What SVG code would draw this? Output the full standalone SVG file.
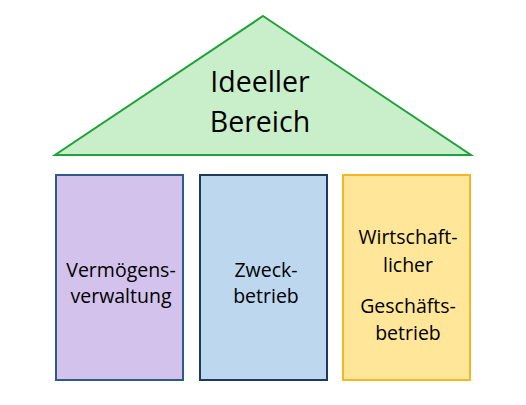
<svg xmlns="http://www.w3.org/2000/svg" width="526" height="405" viewBox="0 0 526 405">
<style>
text { font-family: "Open Sans", "Liberation Sans", sans-serif; fill: #000; text-anchor: middle; }
.big { font-size: 28.5px; }
.sm { font-size: 19.5px; }
</style>
<rect width="526" height="405" fill="#fff"/>
<g id="ideeller">
<polygon points="263,16 471,155 55,155" fill="#C8EFCA" stroke="#22A03A" stroke-width="2" stroke-linejoin="miter"/>
<text class="big" x="260" y="92">Ideeller</text>
<text class="big" x="260" y="132">Bereich</text>
</g>
<g id="vermoegen">
<rect x="56" y="175" width="127" height="205" fill="#D3C2EC" stroke="#2E5A8A" stroke-width="2"/>
<text class="sm" x="121" y="277">Vermögens-</text>
<text class="sm" x="121" y="303">verwaltung</text>
</g>
<g id="zweck">
<rect x="200" y="175" width="127" height="205" fill="#BDD7EE" stroke="#1F3A5F" stroke-width="2"/>
<text class="sm" x="266" y="277">Zweck-</text>
<text class="sm" x="266" y="303">betrieb</text>
</g>
<g id="wirtschaft">
<rect x="343" y="175" width="127" height="205" fill="#FFE699" stroke="#F2B824" stroke-width="2"/>
<text class="sm" x="408" y="244">Wirtschaft-</text>
<text class="sm" x="408" y="272">licher</text>
<text class="sm" x="408" y="313">Geschäfts-</text>
<text class="sm" x="408" y="340">betrieb</text>
</g>
<g id="connectors"></g>
</svg>
